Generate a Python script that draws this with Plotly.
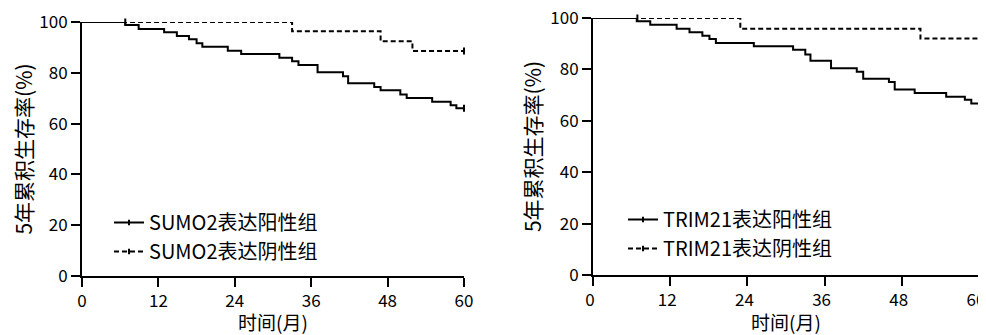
import plotly.graph_objects as go

# ---------------- data ----------------
sumo_pos_t = [0, 6.8, 8.9, 12.9, 14.9, 16.8, 18.0, 18.9, 22.9, 25.0, 31.0, 33.0, 34.0,
              37.0, 41.0, 41.8, 45.9, 46.9, 50.0, 51.0, 55.0, 57.9, 58.8, 60]
sumo_pos_s = [100, 98.8, 97.2, 96.0, 94.5, 93.2, 91.6, 90.3, 88.7, 87.4, 85.9, 84.5, 83.1,
              80.2, 78.6, 75.9, 74.4, 73.1, 71.5, 70.1, 68.6, 67.2, 66.0, 66.0]
sumo_pos_cens_t = [60]
sumo_pos_cens_s = [66.0]

sumo_neg_t = [0, 6.8, 33.0, 46.9, 51.9, 60]
sumo_neg_s = [100, 100, 96.4, 92.4, 88.6, 88.6]
sumo_neg_cens_t = [6.8, 60]
sumo_neg_cens_s = [100, 88.6]

trim_pos_t = [0, 6.8, 8.9, 13.0, 15.0, 17.0, 18.1, 19.1, 25.0, 31.1, 33.0, 33.8, 37.0,
              41.0, 42.0, 46.0, 46.9, 50.0, 54.9, 57.8, 58.8, 60]
trim_pos_s = [100, 98.7, 97.4, 95.8, 94.5, 93.1, 91.8, 90.3, 89.0, 87.6, 85.8, 83.4, 80.4,
              79.1, 76.4, 75.1, 72.2, 70.8, 69.4, 68.2, 66.7, 66.7]
trim_pos_cens_t = [60]
trim_pos_cens_s = [66.7]

trim_neg_t = [0, 6.9, 22.9, 50.9, 60]
trim_neg_s = [100, 100, 95.8, 92.0, 92.0]
trim_neg_cens_t = [6.9, 60]
trim_neg_cens_s = [100, 92.0]

x_ticks = [0, 12, 24, 36, 48, 60]
y_ticks = [0, 20, 40, 60, 80, 100]

names_left = ["SUMO2表达阳性组", "SUMO2表达阴性组"]
names_right = ["TRIM21表达阳性组", "TRIM21表达阴性组"]
x_title = "时间(月)"
y_title = "5年累积生存率(%)"

FONT = "Noto Sans CJK SC"
DASH = "5px,3px"

fig = go.Figure()


def add_group(t, s, ct, cs, name, dash, xa, ya, legend):
    fig.add_trace(go.Scatter(x=t, y=s, mode="lines", line=dict(color="black", width=2, dash=dash,
                             shape="hv"), xaxis=xa, yaxis=ya, showlegend=False, hoverinfo="skip"))
    fig.add_trace(go.Scatter(x=ct, y=cs, mode="markers", cliponaxis=False,
                             marker=dict(symbol="line-ns", size=5, color="black",
                                         line=dict(color="black", width=2)),
                             xaxis=xa, yaxis=ya, showlegend=False, hoverinfo="skip"))
    # legend entry
    fig.add_trace(go.Scatter(x=[None], y=[None], mode="lines+markers", name=name,
                             line=dict(color="black", width=2, dash=dash),
                             marker=dict(symbol="line-ns", size=4, color="black",
                                         line=dict(color="black", width=2)),
                             xaxis=xa, yaxis=ya, legend=legend))


add_group(sumo_pos_t, sumo_pos_s, sumo_pos_cens_t, sumo_pos_cens_s, names_left[0], "solid", "x", "y", "legend")
add_group(sumo_neg_t, sumo_neg_s, sumo_neg_cens_t, sumo_neg_cens_s, names_left[1], DASH, "x", "y", "legend")
add_group(trim_pos_t, trim_pos_s, trim_pos_cens_t, trim_pos_cens_s, names_right[0], "solid", "x2", "y2", "legend2")
add_group(trim_neg_t, trim_neg_s, trim_neg_cens_t, trim_neg_cens_s, names_right[1], DASH, "x2", "y2", "legend2")

# page body has an 8px margin: work in page pixels and subtract it
OFF = 8
W, H = 986 - OFF, 335 - OFF
ML = 82 - OFF
MR = W - (979 - OFF)
MT = 18 - OFF
MB = H - (276 - OFF)
PW = W - ML - MR
PH = H - MT - MB


def px_x(p):
    return (p - OFF - ML) / PW


def px_y(p):
    return (H - MB - (p - OFF)) / PH


common_x = dict(range=[0, 60], tickvals=x_ticks, showline=True, linewidth=2, linecolor="black",
                ticks="outside", ticklen=9, tickwidth=2, tickcolor="black", showgrid=False,
                zeroline=False, ticklabeloverflow="allow",
                tickfont=dict(size=17, color="black", family=FONT),
                title=dict(text=x_title, font=dict(size=19, color="black", family=FONT), standoff=3))
common_y = dict(range=[0, 100], tickvals=y_ticks, showline=True, linewidth=2, linecolor="black",
                ticks="outside", ticklen=9, tickwidth=2, tickcolor="black", showgrid=False,
                zeroline=False, ticklabeloverflow="allow",
                tickfont=dict(size=17, color="black", family=FONT),
                title=dict(text=y_title, font=dict(size=21, color="black", family=FONT), standoff=3))

legend_common = dict(font=dict(size=20, color="black", family=FONT), bgcolor="rgba(0,0,0,0)",
                     xanchor="left", yanchor="top", tracegroupgap=0, itemwidth=30)

fig.update_layout(
    width=W, height=H,
    margin=dict(l=ML, r=MR, t=MT, b=MB, autoexpand=False),
    paper_bgcolor="white", plot_bgcolor="white",
    font=dict(family=FONT, color="black"),
    xaxis=dict(domain=[0, px_x(464)], anchor="y", **common_x),
    yaxis=dict(domain=[px_y(276), px_y(22)], anchor="x", **common_y),
    xaxis2=dict(domain=[px_x(593), 1], anchor="y2", ticklabelshift=-3, **common_x),
    yaxis2=dict(domain=[px_y(275), 1], anchor="x2", **common_y),
    legend=dict(x=px_x(109), y=px_y(203), **legend_common),
    legend2=dict(x=px_x(623), y=px_y(200), **legend_common),
)

fig.write_html("out.html")
